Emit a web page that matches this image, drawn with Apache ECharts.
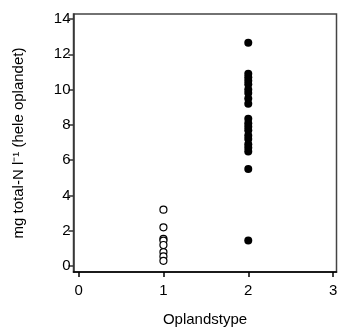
<!DOCTYPE html>
<html><head><meta charset="utf-8">
<script src="https://cdn.jsdelivr.net/npm/echarts@6/dist/echarts.min.js"></script>
<style>html,body{margin:0;padding:0;background:#fff}#c{width:341px;height:332px}</style>
</head><body><div id="c"></div>
<script>
const xTicks = [0, 1, 2, 3];
const yTicks = [0, 2, 4, 6, 8, 10, 12, 14];
const type1Values = [3.2, 2.2, 1.55, 1.45, 1.2, 0.8, 0.55, 0.3];
const type2Values = [12.65, 10.9, 10.7, 10.5, 10.3, 10.0, 9.8, 9.5, 9.2, 8.35, 8.1, 7.9, 7.7, 7.4, 7.2, 6.9, 6.7, 6.5, 5.5, 1.45];
const xName = 'Oplandstype';
const yName = 'mg total-N l\u207B\u00B9 (hele oplandet)';

const font = 'Liberation Sans, Arial, sans-serif';
const chart = echarts.init(document.getElementById('c'), null, {renderer: 'canvas'});
chart.setOption({
  animation: false,
  grid: {left: 73.5, top: 14, right: 4.5, bottom: 55, show: true, borderColor: '#444', borderWidth: 1.5, backgroundColor: 'transparent'},
  xAxis: {
    type: 'value', min: -0.06, max: 3.04,
    name: xName, nameLocation: 'middle', nameGap: 40,
    nameTextStyle: {fontFamily: font, fontSize: 15, color: '#000'},
    axisLine: {show: true, onZero: false, lineStyle: {color: '#000', width: 1.5}},
    axisTick: {show: true, length: 5, customValues: xTicks, lineStyle: {color: '#000', width: 1.5}},
    axisLabel: {customValues: xTicks, fontFamily: font, fontSize: 15, color: '#000', margin: 11},
    splitLine: {show: false}
  },
  yAxis: {
    type: 'value', min: -0.33, max: 14.28,
    name: yName, nameLocation: 'middle', nameGap: 47, nameRotate: 90,
    nameTextStyle: {fontFamily: font, fontSize: 15, color: '#000'},
    axisLine: {show: true, onZero: false, lineStyle: {color: '#333', width: 1.5}},
    axisTick: {show: true, length: 5, customValues: yTicks, lineStyle: {color: '#333', width: 1.5}},
    axisLabel: {customValues: yTicks, fontFamily: font, fontSize: 15, color: '#000', margin: 3},
    splitLine: {show: false}
  },
  series: [
    {type: 'scatter', symbol: 'circle', symbolSize: 7,
     itemStyle: {color: '#fff', borderColor: '#000', borderWidth: 1.2, opacity: 1},
     data: type1Values.map(v => [1, v])},
    {type: 'scatter', symbol: 'circle', symbolSize: 8,
     itemStyle: {color: '#000', opacity: 1},
     data: type2Values.map(v => [2, v])}
  ]
});
</script></body></html>
